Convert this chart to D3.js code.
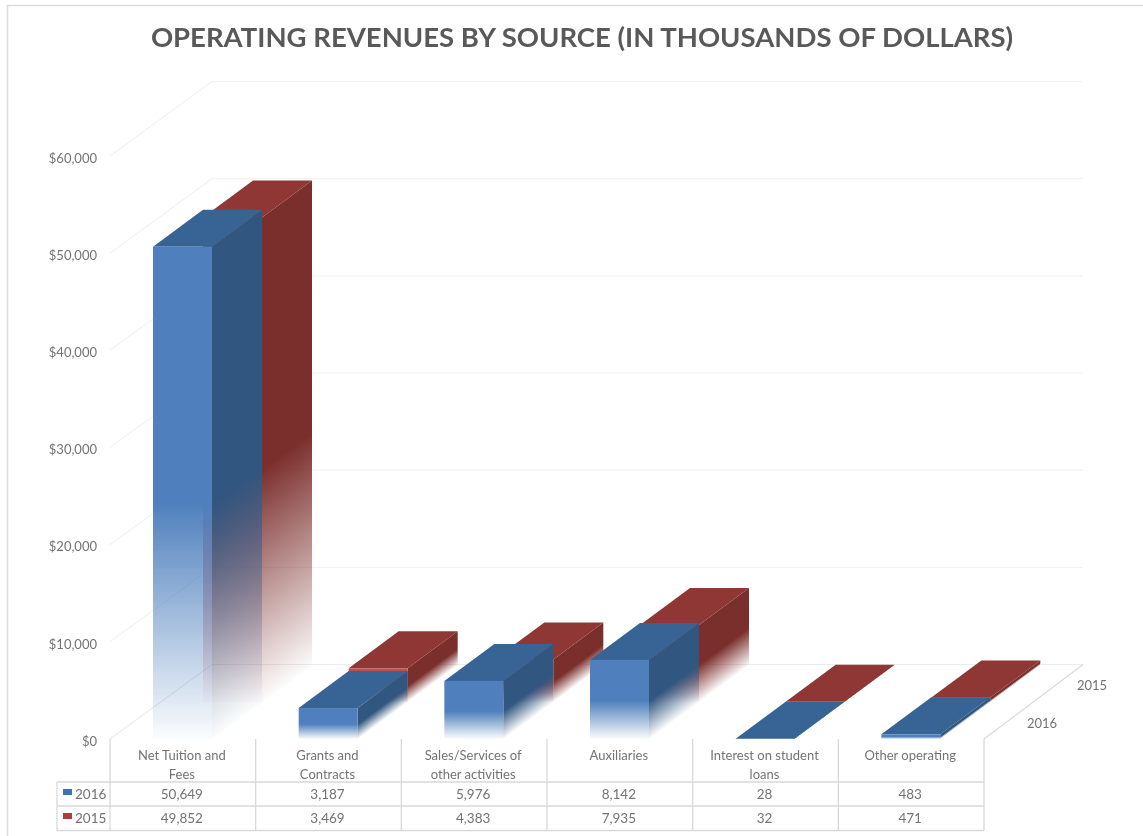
<!DOCTYPE html>
<html><head><meta charset="utf-8">
<script src="https://d3js.org/d3.v7.min.js"></script>
<style>html,body{margin:0;padding:0;background:#fff}svg{display:block;filter:blur(0.5px)}text{font-family:Lato,"Open Sans",sans-serif}</style>
</head><body><svg id="c" width="1143" height="836"></svg>
<script>
const categories = ["Net Tuition and|Fees","Grants and|Contracts","Sales/Services of|other activities","Auxiliaries","Interest on student|loans","Other operating"];
const series = ["2016","2015"];
const values2016 = [50649,3187,5976,8142,28,483];
const values2015 = [49852,3469,4383,7935,32,471];
const yTicks = [0,10000,20000,30000,40000,50000,60000];

const svg=d3.select("#c");
const defs=svg.append("defs");
const y=d3.scaleLinear().domain([0,60000]).range([739,156]);
const x=d3.scaleBand().domain(categories).range([110,984]);
const depth=d3.scalePoint().domain(series).range([0,1]);
const DX=50,DY=-37;
const FULLX=102,FULLY=-74.5;
const faceW=59, faceOff=43;
const palette={
  "2016":{face:"#4f80bd",top:"#376395",side:"#31567f",key:"#3d72b0"},
  "2015":{face:"#c0504d",top:"#8e3735",side:"#7b2f2d",key:"#b03c3a"}
};
// page frame: top and left edges only
svg.append("path").attr("fill","none").attr("stroke","#dcdcdc").attr("stroke-width",1.5)
  .attr("d",d3.line()([[7.5,836],[7.5,5.5],[1143,5.5]]));
// title
svg.append("text").attr("x",582).attr("y",47).attr("text-anchor","middle")
  .attr("font-size",27.5).attr("font-weight",700).attr("fill","#595959")
  .text("OPERATING REVENUES BY SOURCE (IN THOUSANDS OF DOLLARS)");
// walls
const grid=svg.append("g").attr("fill","none").attr("stroke","#f2f2f2").attr("stroke-width",1.2);
yTicks.forEach(t=>{
  if(t===0)return;
  grid.append("path").attr("d",d3.line()([[110,y(t)],[110+FULLX,y(t)+FULLY],[1083,y(t)+FULLY]]));
});
const x0=x.range()[0],x1=x.range()[1];
svg.append("path").attr("fill","none").attr("stroke","#ececec").attr("stroke-width",1.2)
  .attr("d",d3.line()([[x0,y(0)],[x0+FULLX,y(0)+FULLY],[1083,y(0)+FULLY]]));
svg.append("path").attr("fill","none").attr("stroke","#d9d9d9").attr("stroke-width",1.2)
  .attr("d",d3.line()([[x1,y(0)],[x1+99,y(0)+FULLY]]));
// y axis
const ax=svg.append("g").attr("transform","translate(97,2)")
  .call(d3.axisLeft(y).tickValues(yTicks).tickSize(0).tickPadding(0).tickFormat(d=>"$"+d3.format(",")(d)));
ax.select(".domain").remove();
ax.selectAll("text").attr("font-size",13).attr("fill","#737373").style("font-family","Lato,'Open Sans',sans-serif");

// gradients
let gid=0;
function fade(color,x1g,y1g,x2g,y2g){
  const id="g"+(gid++);
  const g=defs.append("linearGradient").attr("id",id).attr("gradientUnits","userSpaceOnUse")
    .attr("x1",x1g).attr("y1",y1g).attr("x2",x2g).attr("y2",y2g);
  g.append("stop").attr("offset",0).attr("stop-color",color).attr("stop-opacity",1);
  g.append("stop").attr("offset",.52).attr("stop-color",color).attr("stop-opacity",1);
  g.append("stop").attr("offset",1).attr("stop-color",color).attr("stop-opacity",.02);
  return "url(#"+id+")";
}
const poly=pts=>d3.line()(pts)+"Z";
const barsG=svg.append("g");
[...series].reverse().forEach(s=>{
  const vals=s==="2016"?values2016:values2015;
  const row=depth(s);
  const p=palette[s];
  categories.forEach((c,i)=>{
    const l=x(c)+faceOff+DX*row, r=l+faceW;
    const base=y(0)+DY*row, top=y(vals[i])+DY*row;
    const nl=Math.hypot(DX,DY), nx=-DY/nl, ny=DX/nl, hgt=base-top;
    const sideFill=fade(p.side,r,top,r+nx*hgt*ny,top+ny*hgt*ny);
    barsG.append("path").attr("d",poly([[r,top],[r+DX,top+DY],[r+DX,base+DY],[r,base]])).attr("fill",sideFill);
    barsG.append("path").attr("d",poly([[l,top],[r,top],[r+DX,top+DY],[l+DX,top+DY]])).attr("fill",p.top);
    barsG.append("rect").attr("x",l).attr("y",top).attr("width",faceW).attr("height",hgt)
      .attr("fill",fade(p.face,l,top,l,base));
  });
});
// depth labels
series.forEach(s=>{
  svg.append("text").attr("x",1042+50*depth(s)).attr("y",723+(-38)*depth(s)+5).attr("text-anchor","middle")
    .attr("font-size",13).attr("fill","#737373").text(s);
});
// data table
const rowY=[739,782,806,830.5], tableLeft=57;
const tb=svg.append("g").attr("stroke","#d9d9d9").attr("stroke-width",1.3);
rowY.slice(1).forEach(v=>tb.append("line").attr("x1",tableLeft).attr("x2",x1).attr("y1",v).attr("y2",v));
tb.append("line").attr("x1",tableLeft).attr("x2",tableLeft).attr("y1",rowY[1]).attr("y2",rowY[3]);
[...categories.map(c=>x(c)),x1].forEach(v=>tb.append("line").attr("x1",v).attr("x2",v).attr("y1",rowY[0]).attr("y2",rowY[3]));
const center=c=>x(c)+x.bandwidth()/2-1;
categories.forEach((c,i)=>{
  c.split("|").forEach((ln,j)=>svg.append("text").attr("x",center(c)).attr("y",760+j*19)
    .attr("text-anchor","middle").attr("font-size",13).attr("fill","#737373").text(ln));
  svg.append("text").attr("x",center(c)).attr("y",799).attr("text-anchor","middle")
    .attr("font-size",13.5).attr("fill","#737373").text(d3.format(",")(values2016[i]));
  svg.append("text").attr("x",center(c)).attr("y",823).attr("text-anchor","middle")
    .attr("font-size",13.5).attr("fill","#737373").text(d3.format(",")(values2015[i]));
});
series.forEach((s,k)=>{
  svg.append("rect").attr("x",63).attr("y",789+k*24).attr("width",9).attr("height",6).attr("fill",palette[s].key);
  svg.append("text").attr("x",75).attr("y",799+k*24).attr("font-size",13.5).attr("fill","#737373").text(s);
});
</script></body></html>
